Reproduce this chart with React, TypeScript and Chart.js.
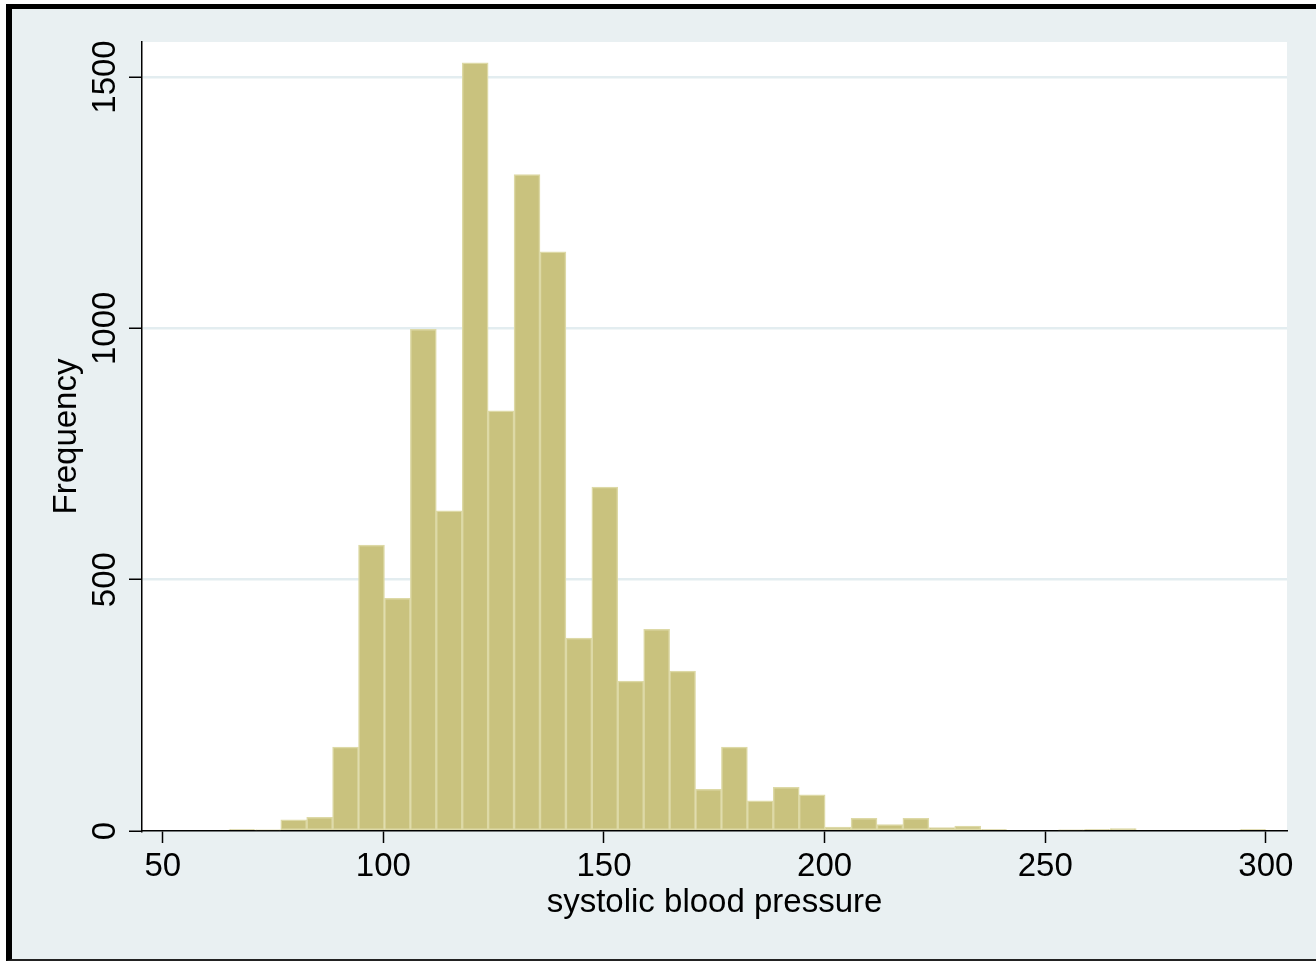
import React, { useEffect, useRef } from "react";
import { Chart, registerables } from "chart.js";

Chart.register(...registerables);

// Histogram bins (lower edges) of systolic blood pressure, bin width 5.875
const binLowerEdges = [
  65, 70.875, 76.75, 82.625, 88.5, 94.375, 100.25, 106.125, 112, 117.875,
  123.75, 129.625, 135.5, 141.375, 147.25, 153.125, 159, 164.875, 170.75, 176.625,
  182.5, 188.375, 194.25, 200.125, 206, 211.875, 217.75, 223.625, 229.5, 235.375,
  241.25, 247.125, 253, 258.875, 264.75, 270.625, 276.5, 282.375, 288.25, 294.125,
];
const binWidth = 5.875;
const frequencies = [
  3, 2, 22, 27, 167, 569, 463, 998, 637, 1528,
  836, 1306, 1152, 384, 684, 298, 401, 318, 83, 167,
  60, 87, 72, 8, 25, 13, 25, 7, 10, 3,
  0, 0, 2, 3, 5, 0, 0, 0, 0, 3,
];
const xTicks = [50, 100, 150, 200, 250, 300];
const yTicks = [0, 500, 1000, 1500];
const yTickLabels = ["0", "500", "1000", "1500"];
const xTitle = "systolic blood pressure";
const yTitle = "Frequency";

const FONT = "'Liberation Sans', Arial, Helvetica, sans-serif";

export default function App() {
  const ref = useRef<HTMLCanvasElement>(null);

  useEffect(() => {
    const canvas = ref.current;
    if (!canvas) return;

    const plotBg = {
      id: "plotBg",
      beforeDraw(chart: any) {
        const { ctx, chartArea } = chart;
        ctx.save();
        ctx.fillStyle = "#ffffff";
        ctx.fillRect(
          chartArea.left,
          chartArea.top,
          chartArea.right - chartArea.left,
          chartArea.bottom - chartArea.top
        );
        ctx.restore();
      },
    };

    const yLabels = {
      id: "yLabels",
      afterDraw(chart: any) {
        const s = chart.scales.y;
        const ctx = chart.ctx;
        ctx.save();
        ctx.fillStyle = "#000";
        ctx.font = `33px ${FONT}`;
        ctx.textAlign = "center";
        ctx.textBaseline = "alphabetic";
        yTicks.forEach((v, i) => {
          const py = s.getPixelForValue(v);
          ctx.save();
          ctx.translate(s.right - 27, py);
          ctx.rotate(-Math.PI / 2);
          ctx.fillText(yTickLabels[i], 0, 0);
          ctx.restore();
        });
        ctx.restore();
      },
    };

    const data = binLowerEdges.map((e, i) => ({ x: e + binWidth / 2, y: frequencies[i] }));

    const chart = new Chart(canvas, {
      type: "bar",
      data: {
        datasets: [
          {
            data: data as any,
            backgroundColor: "#c9c27e",
            borderColor: "#ddd9a6",
            borderWidth: 1.5,
            borderSkipped: false as any,
            barPercentage: 1,
            categoryPercentage: 1,
          },
        ],
      },
      options: {
        animation: false,
        responsive: false,
        devicePixelRatio: 1,
        layout: { padding: { left: 0, top: 42, right: 29, bottom: 0 } },
        plugins: { legend: { display: false }, tooltip: { enabled: false } },
        scales: {
          x: {
            type: "linear",
            offset: false,
            min: 45.3,
            max: 304.8,
            afterBuildTicks: (s: any) => {
              s.ticks = xTicks.map((v) => ({ value: v }));
            },
            afterFit: (s: any) => {
              s.height = 130;
            },
            grid: {
              offset: false,
              drawOnChartArea: false,
              drawTicks: true,
              tickLength: 12,
              tickWidth: 1.5,
              tickColor: "#000",
              color: "#000",
            },
            border: { display: true, color: "#000", width: 1.5 },
            ticks: {
              color: "#000",
              font: { family: FONT, size: 33 },
              padding: 4,
              maxRotation: 0,
              minRotation: 0,
              autoSkip: false,
              callback: (v: any) => String(v),
            },
            title: {
              display: true,
              text: xTitle,
              color: "#000",
              font: { family: FONT, size: 33, lineHeight: 1.2 },
              padding: { top: 0, bottom: 38.6 },
            },
          },
          y: {
            type: "linear",
            min: 0,
            max: 1569.6,
            afterBuildTicks: (s: any) => {
              s.ticks = yTicks.map((v) => ({ value: v }));
            },
            afterFit: (s: any) => {
              s.width = 142;
            },
            grid: {
              drawOnChartArea: true,
              drawTicks: true,
              tickLength: 13,
              tickWidth: 1.5,
              tickColor: "#000",
              lineWidth: 2.5,
              color: (c: any) => (c.tick && c.tick.value === 0 ? "rgba(0,0,0,0)" : "#e3edf0"),
            },
            border: { display: true, color: "#000", width: 1.5 },
            ticks: { display: false },
            title: {
              display: true,
              text: yTitle,
              color: "#000",
              font: { family: FONT, size: 33, lineHeight: 1.2 },
              padding: { top: 46.8, bottom: 0 },
            },
          },
        },
      },
      plugins: [plotBg, yLabels],
    });

    return () => {
      chart.destroy();
    };
  }, []);

  return (
    <div
      style={{
        position: "fixed",
        left: 0,
        top: 0,
        width: 1316,
        height: 961,
        background: "#ffffff",
        overflow: "hidden",
      }}
    >
      <div
        style={{
          position: "absolute",
          left: 6,
          top: 4,
          width: 1330,
          height: 957,
          boxSizing: "border-box",
          background: "#e9f0f2",
          borderLeft: "6px solid #000",
          borderTop: "5px solid #000",
          borderBottom: "2px solid #222",
        }}
      />
      <canvas
        ref={ref}
        width={1316}
        height={961}
        style={{ position: "absolute", left: 0, top: 0, width: 1316, height: 961 }}
      />
    </div>
  );
}
